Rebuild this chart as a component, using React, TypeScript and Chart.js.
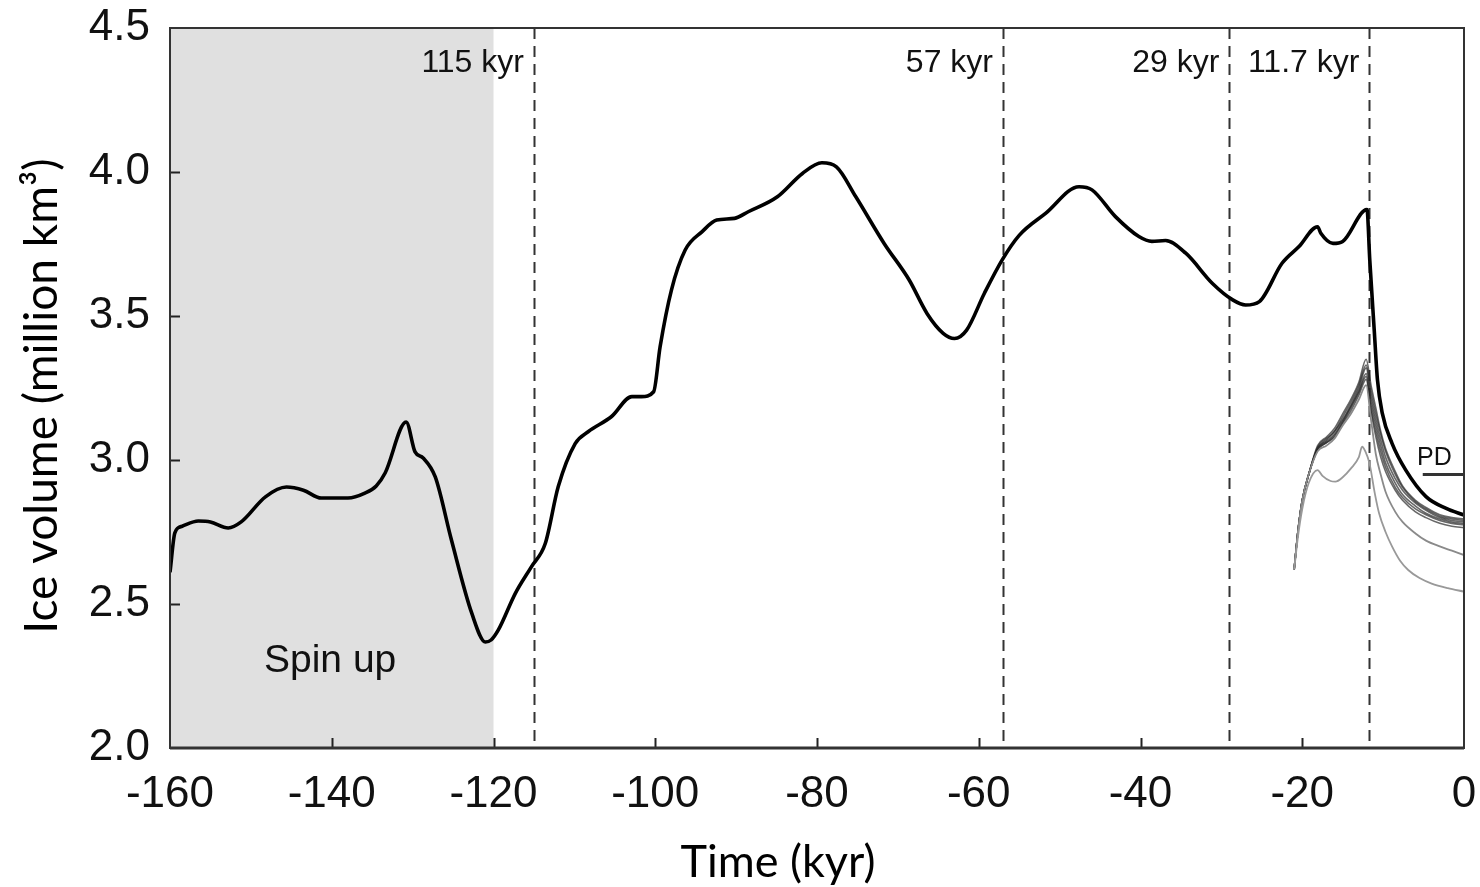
import React, { useEffect, useRef } from "react";
import { Chart, registerables } from "chart.js";

Chart.register(...registerables);

// ---- data ----
const mainTime = [
  -160, -159.4, -158.5, -156.5, -155, -152.8, -151.2, -148.2, -145.6, -143.5, -141.3, -138, -135.9, -134.5,
  -133.4, -130.8, -129.7, -128.7, -127.2, -125.2, -122.7, -121.0, -120.3, -119.4, -117.3, -115.3, -113.6,
  -112.0, -109.9, -108.3, -105.4, -102.9, -101.7, -100.2, -99.4, -98.0, -96.3, -94.2, -92.4, -90.2, -88.5,
  -84.9, -81.8, -79.4, -77.6, -75.2, -71.7, -68.6, -66.4, -64.4, -63.0, -61.5, -59.3, -57.1, -55.0, -51.7,
  -47.6, -46.0, -43.1, -40.2, -38.6, -36.9, -34.4, -31.1, -28.6, -27.0, -25.3, -22.5, -20.4, -18.1, -17.7,
  -16.2, -15.0, -12.0, -11.65, -11.1, -10.7, -10.1, -8.9, -7.2, -4.7, -2.2, 0,
];
const mainVolume = [
  2.61, 2.747, 2.77, 2.788, 2.785, 2.764, 2.785, 2.872, 2.906, 2.895, 2.868, 2.868, 2.885, 2.91,
  2.955, 3.132, 3.028, 3.007, 2.941, 2.722, 2.469, 2.368, 2.375, 2.41, 2.537, 2.63, 2.71,
  2.907, 3.057, 3.098, 3.151, 3.22, 3.22, 3.237, 3.393, 3.59, 3.729, 3.793, 3.833, 3.839, 3.862,
  3.914, 3.995, 4.032, 4.018, 3.914, 3.752, 3.625, 3.509, 3.44, 3.422, 3.451, 3.579, 3.695, 3.78, 3.857,
  3.949, 3.938, 3.845, 3.776, 3.759, 3.762, 3.718, 3.613, 3.556, 3.538, 3.55, 3.683, 3.741, 3.81, 3.787,
  3.752, 3.759, 3.87, 3.694, 3.451, 3.278, 3.162, 3.058, 2.965, 2.873, 2.832, 2.809,
];

const ensTime = [-21, -20.5, -20, -19.2, -18.1, -17, -16, -15, -14, -13, -12.1, -11.5, -10.9, -10.3, -9.7, -8.5, -7.6, -6, -4.7, -3, -1.5, 0];
const ensMember1 = [2.62, 2.76, 2.86, 2.95, 3.05, 3.08, 3.11, 3.16, 3.21, 3.27, 3.35, 3.26, 3.18, 3.10, 3.04, 2.96, 2.91, 2.86, 2.835, 2.81, 2.80, 2.795];
const ensMember2 = [2.62, 2.76, 2.86, 2.95, 3.045, 3.075, 3.10, 3.15, 3.20, 3.26, 3.33, 3.24, 3.16, 3.09, 3.03, 2.95, 2.905, 2.855, 2.83, 2.805, 2.795, 2.79];
const ensMember3 = [2.62, 2.76, 2.86, 2.95, 3.04, 3.07, 3.10, 3.14, 3.19, 3.25, 3.32, 3.22, 3.14, 3.07, 3.01, 2.935, 2.895, 2.85, 2.825, 2.80, 2.79, 2.785];
const ensMember4 = [2.62, 2.76, 2.86, 2.95, 3.04, 3.065, 3.09, 3.135, 3.185, 3.24, 3.30, 3.20, 3.12, 3.05, 2.99, 2.92, 2.88, 2.84, 2.815, 2.795, 2.785, 2.78];
const ensMember5 = [2.62, 2.76, 2.86, 2.95, 3.035, 3.06, 3.085, 3.13, 3.18, 3.235, 3.29, 3.18, 3.10, 3.03, 2.975, 2.905, 2.87, 2.83, 2.81, 2.79, 2.78, 2.775];
const ensMember6 = [2.62, 2.76, 2.86, 2.95, 3.035, 3.06, 3.08, 3.125, 3.17, 3.225, 3.28, 3.17, 3.08, 3.01, 2.96, 2.895, 2.86, 2.82, 2.80, 2.78, 2.77, 2.765];
const ensMember7 = [2.62, 2.76, 2.86, 2.95, 3.03, 3.05, 3.075, 3.12, 3.16, 3.21, 3.26, 3.14, 3.02, 2.95, 2.89, 2.82, 2.785, 2.745, 2.72, 2.70, 2.685, 2.67];

const lowTime = [-21, -20.5, -20, -19.2, -18.1, -17.5, -16.5, -15.9, -15, -14, -13, -12.6, -12.2, -11.7, -11, -10.5, -9.7, -8.9, -7.9, -6.9, -5.5, -4, -2, 0];
const lowVolume = [2.62, 2.74, 2.83, 2.92, 2.965, 2.945, 2.927, 2.925, 2.94, 2.97, 3.01, 3.046, 3.03, 2.99, 2.88, 2.815, 2.75, 2.70, 2.65, 2.618, 2.59, 2.571, 2.555, 2.543];

const eventTimes = [-115, -57, -29, -11.7];
const eventLabels = ["115 kyr", "57 kyr", "29 kyr", "11.7 kyr"];
const spinUpRange = [-160, -120];
const pdTime = [-5.1, 0];
const pdVolume = 2.95;
const xTickValues = [-140, -120, -100, -80, -60, -40, -20];
const yTickValues = [2.5, 3.0, 3.5, 4.0];

const toPts = (xs: number[], ys: number[]) => xs.map((x, i) => ({ x, y: ys[i] }));

const decorPlugin = {
  id: "decor",
  beforeDatasetsDraw(chart: any) {
    const { ctx, chartArea: a, scales } = chart;
    const xs = scales.x;
    const ys = scales.y;
    ctx.save();
    // spin-up shading
    ctx.fillStyle = "#e0e0e0";
    const x0 = xs.getPixelForValue(spinUpRange[0]);
    const x1 = xs.getPixelForValue(spinUpRange[1]);
    ctx.fillRect(x0, a.top, x1 - x0, a.bottom - a.top);
    ctx.fillStyle = "#111";
    ctx.font = "39px 'Liberation Sans', Arial, sans-serif";
    ctx.textAlign = "center";
    ctx.textBaseline = "alphabetic";
    ctx.fillText("Spin up", xs.getPixelForValue(-140.2), ys.getPixelForValue(2.265));
    // dashed event lines
    ctx.strokeStyle = "#333";
    ctx.lineWidth = 2;
    ctx.setLineDash([11, 7]);
    eventTimes.forEach((t) => {
      const px = Math.round(xs.getPixelForValue(t)) + 0.5;
      ctx.beginPath();
      ctx.moveTo(px, a.top);
      ctx.lineTo(px, a.bottom);
      ctx.stroke();
    });
    ctx.setLineDash([]);
    ctx.font = "32px 'Liberation Sans', Arial, sans-serif";
    ctx.textAlign = "right";
    ctx.fillStyle = "#111";
    eventTimes.forEach((t, i) => {
      const px = xs.getPixelForValue(t);
      ctx.fillText(eventLabels[i], px - 10, 72);
    });
    ctx.restore();
  },
  afterDraw(chart: any) {
    const { ctx, chartArea: a, scales } = chart;
    const xs = scales.x;
    const ys = scales.y;
    ctx.save();
    // PD marker
    ctx.strokeStyle = "#333";
    ctx.lineWidth = 3;
    ctx.beginPath();
    ctx.moveTo(xs.getPixelForValue(pdTime[0]), ys.getPixelForValue(pdVolume));
    ctx.lineTo(xs.getPixelForValue(pdTime[1]), ys.getPixelForValue(pdVolume));
    ctx.stroke();
    ctx.fillStyle = "#111";
    ctx.font = "25px 'Liberation Sans', Arial, sans-serif";
    ctx.textAlign = "left";
    ctx.textBaseline = "alphabetic";
    ctx.fillText("PD", xs.getPixelForValue(-5.8), ys.getPixelForValue(2.982));
    // inward ticks
    ctx.strokeStyle = "#222";
    ctx.lineWidth = 2;
    xTickValues.forEach((v) => {
      const px = Math.round(xs.getPixelForValue(v)) + 0.5;
      ctx.beginPath();
      ctx.moveTo(px, a.bottom);
      ctx.lineTo(px, a.bottom - 10);
      ctx.stroke();
    });
    yTickValues.forEach((v) => {
      const py = Math.round(ys.getPixelForValue(v)) + 0.5;
      ctx.beginPath();
      ctx.moveTo(a.left, py);
      ctx.lineTo(a.left + 10, py);
      ctx.stroke();
    });
    // frame
    ctx.strokeStyle = "#333";
    ctx.lineWidth = 2;
    ctx.strokeRect(a.left, a.top, a.right - a.left, a.bottom - a.top);
    ctx.lineWidth = 3;
    ctx.beginPath();
    ctx.moveTo(a.left, a.bottom);
    ctx.lineTo(a.right, a.bottom);
    ctx.stroke();
    // axis titles
    ctx.fillStyle = "#000";
    ctx.font = "45px Lato, 'Open Sans', sans-serif";
    ctx.textAlign = "center";
    ctx.fillText("Time (kyr)", 778, 877);
    ctx.font = "46px Lato, 'Open Sans', sans-serif";
    ctx.translate(57, 396);
    ctx.rotate(-Math.PI / 2);
    ctx.fillText("Ice volume (million km³)", 0, 0);
    ctx.restore();
  },
};

const zeroPad = (s: any) => {
  s.paddingTop = 0;
  s.paddingBottom = 0;
  s.paddingLeft = 0;
  s.paddingRight = 0;
};

export default function App() {
  const ref = useRef<HTMLCanvasElement | null>(null);
  useEffect(() => {
    document.body.style.margin = "0";
    if (!ref.current) return;
    const ensStyle = (data: number[]) => ({
      data: toPts(ensTime, data),
      borderColor: "rgba(40,40,40,0.7)",
      borderWidth: 1.6,
      pointRadius: 0,
      cubicInterpolationMode: "monotone" as const,
    });
    const chart = new Chart(ref.current, {
      type: "line",
      data: {
        datasets: [
          {
            data: toPts(lowTime, lowVolume),
            borderColor: "#999",
            borderWidth: 1.8,
            pointRadius: 0,
            cubicInterpolationMode: "monotone",
          },
          {
            ...ensStyle(ensMember7),
            borderColor: "#8a8a8a",
            borderWidth: 1.8,
          },
          ensStyle(ensMember6),
          ensStyle(ensMember5),
          ensStyle(ensMember4),
          ensStyle(ensMember3),
          ensStyle(ensMember2),
          ensStyle(ensMember1),
          {
            data: toPts(mainTime, mainVolume),
            borderColor: "#000",
            borderWidth: 3.6,
            pointRadius: 0,
            cubicInterpolationMode: "monotone",
          },
        ],
      },
      options: {
        animation: false,
        responsive: true,
        maintainAspectRatio: false,
        layout: { padding: { left: 0, right: 16, top: 28, bottom: 0 } },
        plugins: { legend: { display: false }, tooltip: { enabled: false } },
        scales: {
          x: {
            type: "linear",
            min: -160,
            max: 0,
            afterFit: (s: any) => {
              s.height = 139;
              zeroPad(s);
            },
            grid: { display: false, drawTicks: false },
            border: { display: false },
            ticks: {
              stepSize: 20,
              padding: 20,
              color: "#111",
              font: { family: "'Liberation Sans', Arial, sans-serif", size: 44 },
              callback: (v: any) => String(v),
              maxRotation: 0,
            },
          },
          y: {
            type: "linear",
            min: 2,
            max: 4.5,
            afterFit: (s: any) => {
              s.width = 170;
              zeroPad(s);
            },
            grid: { display: false, drawTicks: false },
            border: { display: false },
            ticks: {
              stepSize: 0.5,
              padding: 20,
              color: "#111",
              font: { family: "'Liberation Sans', Arial, sans-serif", size: 44 },
              callback: (v: any) => Number(v).toFixed(1),
            },
          },
        },
      },
      plugins: [decorPlugin],
    });
    return () => chart.destroy();
  }, []);
  return (
    <div style={{ position: "absolute", left: 0, top: 0, width: 1480, height: 887 }}>
      <canvas ref={ref} />
    </div>
  );
}
